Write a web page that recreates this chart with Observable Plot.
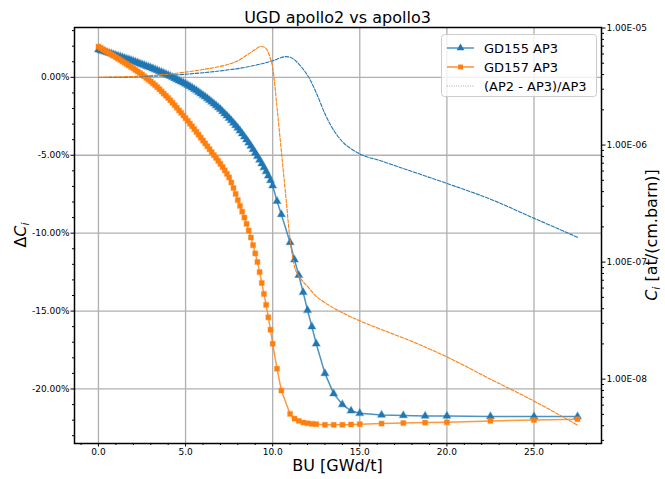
<!DOCTYPE html>
<html>
<head>
<meta charset="utf-8">
<script src="https://cdn.jsdelivr.net/npm/d3@7"></script>
<script src="https://cdn.jsdelivr.net/npm/@observablehq/plot@0.6"></script>
<style>
  body { margin: 0; background: #fff; }
  #chart { position: relative; width: 665px; height: 479px; font-family: "DejaVu Sans", sans-serif; }
  #chart svg { position: absolute; left: 0; top: 0; overflow: visible; }
</style>
</head>
<body>
<div id="chart"></div>
<script>
// ---------- data ----------
const title = "UGD apollo2 vs apollo3";
const xLabel = "BU [GWd/t]";
const seriesNames = ["GD155 AP3", "GD157 AP3", "(AP2 - AP3)/AP3"];

// burnup steps (GWd/t) of the relative-difference curves
const bu = [
  0, 0.125, 0.25, 0.375, 0.5, 0.625, 0.75, 0.875,
  1, 1.125, 1.25, 1.375, 1.5, 1.625, 1.75, 1.875,
  2, 2.125, 2.25, 2.375, 2.5, 2.625, 2.75, 2.875,
  3, 3.125, 3.25, 3.375, 3.5, 3.625, 3.75, 3.875,
  4, 4.125, 4.25, 4.375, 4.5, 4.625, 4.75, 4.875,
  5, 5.125, 5.25, 5.375, 5.5, 5.625, 5.75, 5.875,
  6, 6.125, 6.25, 6.375, 6.5, 6.625, 6.75, 6.875,
  7, 7.125, 7.25, 7.375, 7.5, 7.625, 7.75, 7.875,
  8, 8.125, 8.25, 8.375, 8.5, 8.625, 8.75, 8.875,
  9, 9.125, 9.25, 9.375, 9.5, 9.625, 9.75, 9.875,
  10, 10.25, 10.5, 11, 11.25, 11.5, 11.75, 12, 12.25, 12.5,
  13, 13.5, 14, 14.5, 15, 16.25, 17.5, 18.75, 20, 22.5, 25, 27.5
];

// relative difference GD155 (%)
const dC155 = [
  1.78, 1.73, 1.69, 1.64, 1.60, 1.55, 1.51, 1.46,
  1.42, 1.37, 1.33, 1.28, 1.23, 1.18, 1.14, 1.09,
  1.04, 0.99, 0.93, 0.88, 0.83, 0.78, 0.72, 0.67,
  0.62, 0.56, 0.50, 0.44, 0.38, 0.32, 0.26, 0.20,
  0.14, 0.07, 0.00, -0.07, -0.14, -0.21, -0.28, -0.35,
  -0.42, -0.50, -0.58, -0.67, -0.76, -0.85, -0.95, -1.05,
  -1.15, -1.25, -1.36, -1.47, -1.58, -1.69, -1.81, -1.93,
  -2.05, -2.19, -2.33, -2.47, -2.62, -2.77, -2.93, -3.09,
  -3.25, -3.43, -3.62, -3.81, -4.00, -4.20, -4.41, -4.63,
  -4.85, -5.07, -5.30, -5.54, -5.79, -6.05, -6.32, -6.62,
  -6.95, -7.95, -8.80, -10.60, -11.70, -12.70, -13.80, -14.95, -16.00, -17.10,
  -19.00, -20.30, -21.00, -21.40, -21.56, -21.67, -21.70, -21.73, -21.73, -21.76, -21.77, -21.77
];

// relative difference GD157 (%)
const dC157 = [
  1.97, 1.89, 1.80, 1.72, 1.63, 1.55, 1.46, 1.38,
  1.29, 1.20, 1.12, 1.03, 0.94, 0.85, 0.76, 0.67,
  0.58, 0.48, 0.38, 0.28, 0.18, 0.07, -0.04, -0.15,
  -0.26, -0.38, -0.50, -0.63, -0.76, -0.90, -1.04, -1.18,
  -1.32, -1.47, -1.63, -1.79, -1.95, -2.12, -2.28, -2.45,
  -2.62, -2.79, -2.97, -3.14, -3.32, -3.50, -3.68, -3.87,
  -4.05, -4.24, -4.42, -4.61, -4.80, -4.99, -5.17, -5.36,
  -5.55, -5.76, -5.97, -6.19, -6.42, -6.75, -7.10, -7.48,
  -7.88, -8.25, -8.62, -9.00, -9.40, -9.83, -10.28, -10.77,
  -11.30, -11.85, -12.50, -13.20, -13.90, -14.60, -15.40, -16.20,
  -17.10, -18.70, -20.10, -21.60, -21.90, -22.05, -22.15, -22.20, -22.24, -22.26,
  -22.30, -22.30, -22.30, -22.28, -22.26, -22.22, -22.19, -22.16, -22.14, -22.05, -21.99, -21.94
];

// burnup points of the concentration curves (right axis)
const buConc = [
  0, 1, 2, 3, 4, 5, 6, 7, 7.5, 8, 8.5, 9, 9.3, 9.5, 9.7, 9.85, 10,
  10.25, 10.5, 10.75, 11, 11.25, 11.5, 11.75, 12, 12.5, 13, 13.5, 14, 14.5, 15,
  16.25, 17.5, 18.75, 20, 22.5, 25, 27.5
];

// concentration GD155 (at/(cm.barn))
const c155 = [
  3.78e-6, 3.79e-6, 3.82e-6, 3.87e-6, 3.94e-6, 4.03e-6, 4.15e-6, 4.30e-6, 4.40e-6, 4.50e-6,
  4.64e-6, 4.80e-6, 4.92e-6, 5.00e-6, 5.10e-6, 5.18e-6, 5.25e-6,
  5.42e-6, 5.60e-6, 5.70e-6, 5.62e-6, 5.35e-6, 4.92e-6, 4.45e-6, 3.95e-6, 2.80e-6, 1.85e-6,
  1.34e-6, 1.07e-6, 9.3e-7, 8.4e-7,
  7.3e-7, 6.3e-7, 5.45e-7, 4.7e-7, 3.45e-7, 2.37e-7, 1.63e-7
];

// concentration GD157 (at/(cm.barn))
const c157 = [
  3.80e-6, 3.82e-6, 3.86e-6, 3.93e-6, 4.03e-6, 4.20e-6, 4.42e-6, 4.70e-6, 4.92e-6, 5.25e-6,
  5.85e-6, 6.55e-6, 6.95e-6, 6.88e-6, 6.40e-6, 5.60e-6, 4.60e-6,
  2.10e-6, 8.8e-7, 3.7e-7, 1.55e-7, 9.2e-8, 7.6e-8, 6.8e-8, 6.2e-8, 5.1e-8, 4.5e-8,
  4.05e-8, 3.7e-8, 3.4e-8, 3.15e-8,
  2.65e-8, 2.25e-8, 1.88e-8, 1.55e-8, 1.0e-8, 6.5e-9, 4.05e-9
];

// ticks
const xTicks = [0, 5, 10, 15, 20, 25];
const xMinor = [-1, 1, 2, 3, 4, 6, 7, 8, 9, 11, 12, 13, 14, 16, 17, 18, 19, 21, 22, 23, 24, 26, 27, 28];
const yTicks = [0, -5, -10, -15, -20];
const yMinor = [3, 2, 1, -1, -2, -3, -4, -6, -7, -8, -9, -11, -12, -13, -14, -16, -17, -18, -19, -21, -22, -23];
const logTicks = [1e-5, 1e-6, 1e-7, 1e-8];
const logMinor = [
  3e-9, 4e-9, 5e-9, 6e-9, 7e-9, 8e-9, 9e-9,
  2e-8, 3e-8, 4e-8, 5e-8, 6e-8, 7e-8, 8e-8, 9e-8,
  2e-7, 3e-7, 4e-7, 5e-7, 6e-7, 7e-7, 8e-7, 9e-7,
  2e-6, 3e-6, 4e-6, 5e-6, 6e-6, 7e-6, 8e-6, 9e-6
];

// ---------- layout ----------
const W = 665, H = 479;
const M = {left: 74, right: 64, top: 27, bottom: 36};
const xDomain = [-1.375, 28.875];
const BLUE = "#1f77b4", ORANGE = "#ff7f0e";
const FONT = "DejaVu Sans";

const rows155 = bu.map((x, i) => ({x, y: dC155[i]}));
const rows157 = bu.map((x, i) => ({x, y: dC157[i]}));
const conc155 = buConc.map((x, i) => ({x, y: c155[i]}));
const conc157 = buConc.map((x, i) => ({x, y: c157[i]}));

const fmtE = d => {
  const e = Math.round(Math.log10(d));
  const m = d / Math.pow(10, e);
  return m.toFixed(2) + "E" + (e < 0 ? "-" : "+") + String(Math.abs(e)).padStart(2, "0");
};

const common = {
  width: W, height: H,
  marginLeft: M.left, marginRight: M.right, marginTop: M.top, marginBottom: M.bottom
};

const gridStyle = {stroke: "#b0b0b0", strokeOpacity: 1, strokeWidth: 1.3};

const p1 = Plot.plot({
  ...common,
  style: {fontFamily: FONT, fontSize: "9px", color: "black", background: "white"},
  x: {domain: xDomain, label: null},
  y: {domain: [-23.5, 3.2], label: null},
  marks: [
    Plot.gridX(xTicks, gridStyle),
    Plot.gridY(yTicks, gridStyle),
    Plot.line(rows155, {x: "x", y: "y", stroke: BLUE, strokeWidth: 1.5, strokeOpacity: 0.8}),
    Plot.dot(rows155, {x: "x", y: "y", symbol: "triangle", r: 2.9, fill: BLUE, stroke: BLUE, strokeOpacity: 0.35, strokeWidth: 1.2}),
    Plot.line(rows157, {x: "x", y: "y", stroke: ORANGE, strokeWidth: 1.5, strokeOpacity: 0.8}),
    Plot.dot(rows157, {x: "x", y: "y", symbol: "square", r: 2.8, fill: ORANGE, stroke: ORANGE, strokeOpacity: 0.35, strokeWidth: 1.2}),
    Plot.axisX(xTicks, {tickSize: 3.5, tickPadding: 1.5, tickFormat: d => d.toFixed(1), label: null, fontSize: 9}),
    Plot.axisX(xMinor, {tickSize: 2, tickFormat: () => "", label: null}),
    Plot.axisY(yTicks, {tickSize: 3.5, tickPadding: 1.5, tickFormat: d => d.toFixed(2) + "%", label: null, fontSize: 9}),
    Plot.axisY(yMinor, {tickSize: 2, tickFormat: () => "", label: null})
  ]
});

const p2 = Plot.plot({
  ...common,
  style: {fontFamily: FONT, fontSize: "9px", color: "black", background: "transparent"},
  x: {domain: xDomain, axis: null},
  y: {type: "log", domain: [2.82e-9, 1.01e-5], label: null},
  marks: [
    Plot.line(conc155, {x: "x", y: "y", stroke: BLUE, strokeWidth: 1.1, strokeDasharray: "3.5,1.6", curve: "monotone-x"}),
    Plot.line(conc157, {x: "x", y: "y", stroke: ORANGE, strokeWidth: 1.1, strokeDasharray: "3.5,1.6", curve: "monotone-x"}),
    Plot.axisY(logTicks, {anchor: "right", tickSize: 3.5, tickPadding: 1.5, tickFormat: fmtE, label: null, fontSize: 9}),
    Plot.axisY(logMinor, {anchor: "right", tickSize: 2, tickFormat: () => "", label: null}),
    Plot.frame({stroke: "black", strokeWidth: 1.5})
  ]
});

const chart = document.getElementById("chart");
chart.appendChild(p1);
chart.appendChild(p2);

// ---------- overlay: title, axis labels, legend ----------
const svg = d3.create("svg").attr("width", W).attr("height", H)
  .style("font-family", FONT).style("background", "transparent");
const cx = M.left + (W - M.left - M.right) / 2;
const cy = M.top + (H - M.top - M.bottom) / 2;

svg.append("text").attr("x", cx).attr("y", 23).attr("text-anchor", "middle")
  .attr("font-size", 16).attr("fill", "black").text(title);
svg.append("text").attr("x", cx).attr("y", 471).attr("text-anchor", "middle")
  .attr("font-size", 16).attr("fill", "black").text(xLabel);

const yl = svg.append("text").attr("transform", `translate(26,${cy}) rotate(-90)`)
  .attr("text-anchor", "middle").attr("font-size", 16).attr("fill", "black");
yl.append("tspan").text("Δ");
yl.append("tspan").attr("font-style", "italic").text("C");
yl.append("tspan").attr("font-style", "italic").attr("font-size", 11).attr("dy", 3).text("i");

const yr = svg.append("text").attr("transform", `translate(657,${cy}) rotate(-90)`)
  .attr("text-anchor", "middle").attr("font-size", 16).attr("fill", "black");
yr.append("tspan").attr("font-style", "italic").text("C");
yr.append("tspan").attr("font-style", "italic").attr("font-size", 11).attr("dy", 3).text("i");
yr.append("tspan").attr("dy", -3).text(" [at/(cm.barn)]");

// legend
const lg = svg.append("g");
lg.append("rect").attr("x", 441.5).attr("y", 34.5).attr("width", 155).attr("height", 62)
  .attr("rx", 3).attr("fill", "white").attr("fill-opacity", 0.8)
  .attr("stroke", "#cccccc").attr("stroke-width", 1);
const rowsY = [48, 67, 86];
const hx0 = 447, hx1 = 474, hxm = 460.5, tx = 484;
// GD155
lg.append("line").attr("x1", hx0).attr("x2", hx1).attr("y1", rowsY[0]).attr("y2", rowsY[0])
  .attr("stroke", BLUE).attr("stroke-opacity", 0.6).attr("stroke-width", 2);
lg.append("path").attr("d", d3.symbol(d3.symbolTriangle, 26)())
  .attr("transform", `translate(${hxm},${rowsY[0]})`).attr("fill", BLUE);
lg.append("text").attr("x", tx).attr("y", rowsY[0] + 4.7).attr("font-size", 13).text(seriesNames[0]);
// GD157
lg.append("line").attr("x1", hx0).attr("x2", hx1).attr("y1", rowsY[1]).attr("y2", rowsY[1])
  .attr("stroke", ORANGE).attr("stroke-opacity", 0.8).attr("stroke-width", 1.6);
lg.append("path").attr("d", d3.symbol(d3.symbolSquare, 24)())
  .attr("transform", `translate(${hxm},${rowsY[1]})`).attr("fill", ORANGE);
lg.append("text").attr("x", tx).attr("y", rowsY[1] + 4.7).attr("font-size", 13).text(seriesNames[1]);
// (AP2 - AP3)/AP3
lg.append("line").attr("x1", hx0).attr("x2", hx1).attr("y1", rowsY[2]).attr("y2", rowsY[2])
  .attr("stroke", "#aaaaaa").attr("stroke-width", 1).attr("stroke-dasharray", "1,1.3");
lg.append("text").attr("x", tx).attr("y", rowsY[2] + 4.7).attr("font-size", 13).text(seriesNames[2]);

chart.appendChild(svg.node());
</script>
</body>
</html>
